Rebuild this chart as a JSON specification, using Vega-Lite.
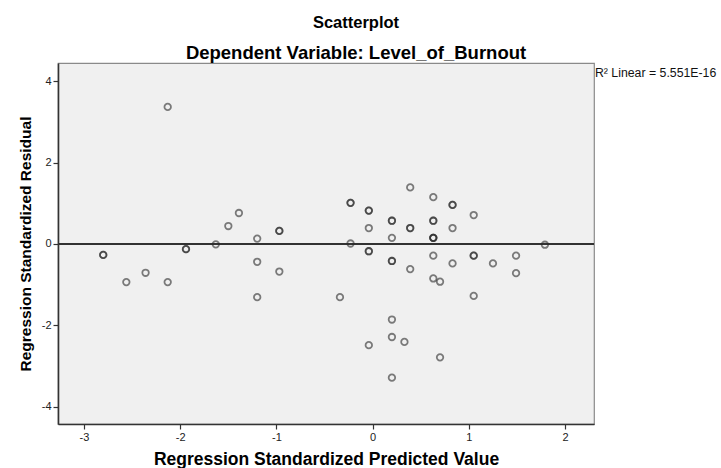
{
  "$schema": "https://vega.github.io/schema/vega-lite/v6.json",
  "width": 536,
  "height": 361,
  "autosize": "none",
  "padding": {"left": 58, "top": 63, "right": 127, "bottom": 44},
  "background": "white",
  "config": {
    "font": "Liberation Sans",
    "view": {"fill": "#f0f0f0", "stroke": "#8a8a8a", "strokeWidth": 1.2},
    "axis": {
      "grid": false,
      "domainColor": "#333333",
      "domainWidth": 1.6,
      "tickColor": "#333333",
      "tickSize": 5,
      "tickWidth": 1.2,
      "labelFont": "Liberation Sans",
      "labelFontSize": 11,
      "labelColor": "#222222",
      "titleFont": "Liberation Sans",
      "titleFontWeight": "bold",
      "titleColor": "#000000"
    }
  },
  "title": {
    "text": "Scatterplot",
    "subtitle": "Dependent Variable: Level_of_Burnout",
    "font": "Liberation Sans",
    "fontSize": 16.5,
    "fontWeight": "bold",
    "color": "#000000",
    "subtitleFont": "Liberation Sans",
    "subtitleFontSize": 18.5,
    "subtitleFontWeight": "bold",
    "subtitleColor": "#000000",
    "subtitlePadding": 12,
    "offset": 1,
    "anchor": "middle",
    "dx": 30
  },
  "data": {
    "values": [
      {"pred": -2.13, "resid": 3.37},
      {"pred": -1.39, "resid": 0.76},
      {"pred": -1.50, "resid": 0.44},
      {"pred": -0.97, "resid": 0.32},
      {"pred": -0.97, "resid": 0.32},
      {"pred": -1.20, "resid": 0.13},
      {"pred": -1.63, "resid": -0.01},
      {"pred": -1.94, "resid": -0.13},
      {"pred": -1.94, "resid": -0.13},
      {"pred": -2.80, "resid": -0.27},
      {"pred": -2.80, "resid": -0.27},
      {"pred": -1.20, "resid": -0.44},
      {"pred": -0.97, "resid": -0.68},
      {"pred": -2.36, "resid": -0.71},
      {"pred": -2.56, "resid": -0.94},
      {"pred": -2.13, "resid": -0.94},
      {"pred": -1.20, "resid": -1.31},
      {"pred": -0.34, "resid": -1.31},
      {"pred": -0.23, "resid": 1.01},
      {"pred": -0.23, "resid": 1.01},
      {"pred": -0.23, "resid": 0.01},
      {"pred": 0.39, "resid": 1.39},
      {"pred": 0.63, "resid": 1.15},
      {"pred": 0.83, "resid": 0.96},
      {"pred": 0.83, "resid": 0.96},
      {"pred": -0.04, "resid": 0.82},
      {"pred": -0.04, "resid": 0.82},
      {"pred": 1.05, "resid": 0.71},
      {"pred": 0.20, "resid": 0.57},
      {"pred": 0.20, "resid": 0.57},
      {"pred": 0.63, "resid": 0.57},
      {"pred": 0.63, "resid": 0.57},
      {"pred": -0.04, "resid": 0.39},
      {"pred": 0.39, "resid": 0.39},
      {"pred": 0.39, "resid": 0.39},
      {"pred": 0.83, "resid": 0.39},
      {"pred": 0.20, "resid": 0.15},
      {"pred": 0.63, "resid": 0.15},
      {"pred": 0.63, "resid": 0.15},
      {"pred": 0.63, "resid": 0.15},
      {"pred": 1.79, "resid": -0.02},
      {"pred": -0.04, "resid": -0.18},
      {"pred": -0.04, "resid": -0.18},
      {"pred": 0.63, "resid": -0.29},
      {"pred": 1.05, "resid": -0.29},
      {"pred": 1.05, "resid": -0.29},
      {"pred": 1.49, "resid": -0.29},
      {"pred": 0.20, "resid": -0.42},
      {"pred": 0.20, "resid": -0.42},
      {"pred": 0.83, "resid": -0.48},
      {"pred": 1.25, "resid": -0.48},
      {"pred": 0.39, "resid": -0.62},
      {"pred": 1.49, "resid": -0.72},
      {"pred": 0.63, "resid": -0.85},
      {"pred": 0.70, "resid": -0.93},
      {"pred": 1.05, "resid": -1.28},
      {"pred": 0.20, "resid": -1.86},
      {"pred": 0.20, "resid": -2.29},
      {"pred": 0.33, "resid": -2.41},
      {"pred": -0.04, "resid": -2.49},
      {"pred": 0.70, "resid": -2.79},
      {"pred": 0.20, "resid": -3.29}
    ]
  },
  "layer": [
    {
      "mark": {"type": "rule", "color": "#333333", "strokeWidth": 1.2},
      "encoding": {"y": {"datum": 0, "type": "quantitative"}}
    },
    {
      "mark": {"type": "point", "shape": "circle", "filled": false, "size": 42, "stroke": "#2a2a2a", "strokeWidth": 1.8, "strokeOpacity": 0.85},
      "encoding": {
        "x": {
          "field": "pred",
          "type": "quantitative",
          "scale": {"domain": [-3.27, 2.30], "nice": false, "zero": false},
          "axis": {"values": [-3, -2, -1, 0, 1, 2], "labelExpr": "'' + datum.value", "title": "Regression Standardized Predicted Value", "titleFontSize": 17.5, "titlePadding": 8}
        },
        "y": {
          "field": "resid",
          "type": "quantitative",
          "scale": {"domain": [-4.43, 4.45], "nice": false, "zero": false},
          "axis": {"values": [-4, -2, 0, 2, 4], "labelExpr": "'' + datum.value", "title": "Regression Standardized Residual", "titleFontSize": 15.5, "titlePadding": 8}
        }
      }
    },
    {
      "data": {"values": [{"pred": 2.31, "resid": 4.21, "label": "R² Linear = 5.551E-16"}]},
      "mark": {"type": "text", "align": "left", "baseline": "middle", "fontSize": 12.3, "font": "Liberation Sans", "color": "#111111", "clip": false},
      "encoding": {
        "x": {"field": "pred", "type": "quantitative"},
        "y": {"field": "resid", "type": "quantitative"},
        "text": {"field": "label"}
      }
    }
  ]
}
